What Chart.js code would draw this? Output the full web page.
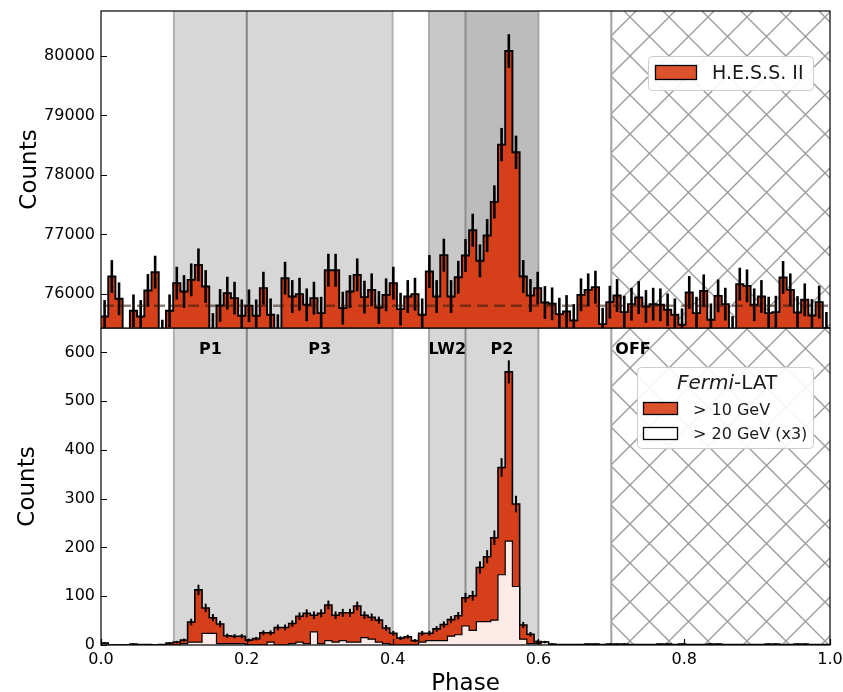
<!DOCTYPE html>
<html><head><meta charset="utf-8">
<script src="https://cdn.jsdelivr.net/npm/chart.js"></script>
<style>
html,body{margin:0;padding:0;background:#fff;}
#wrap{position:relative;width:843px;height:692px;overflow:hidden;}
#c1{position:absolute;left:0;top:0;}
#c2{position:absolute;left:0;top:328px;}
</style></head><body>
<div id="wrap">
<canvas id="c2" width="843" height="364"></canvas>
<canvas id="c1" width="843" height="329"></canvas>
</div>
<script>
// ---------------- DATA ----------------
const PHASE_BINS = 101;                       // equal phase bins over [0, 1]
const phaseTicks = [0, 0.2, 0.4, 0.6, 0.8, 1.0];
const hessTicks = [76000, 77000, 78000, 79000, 80000];
const fermiTicks = [0, 100, 200, 300, 400, 500, 600];
const hessBackgroundLevel = 75800;

const hessCounts = [
 75619, 76291, 75916, 75100, 75714, 75619, 76056, 76364, 75290, 75714,
 76179, 76039, 76235, 76487, 76123, 75400, 75804, 76011, 75927, 75630,
 75798, 75630, 76095, 75647, 75380, 76263, 75955, 75994, 75815, 75927,
 75675, 76397, 76397, 75759, 76039, 76319, 75944, 76067, 75770, 75983,
 76179, 75742, 75955, 75994, 75647, 76375, 75955, 76650, 75955, 76278,
 76644, 77070, 76555, 76980, 77546, 78510, 80084, 78381, 76291, 75972,
 76095, 75854, 75832, 75658, 75703, 75552, 75983, 76067, 76112, 75490,
 75860, 75972, 75692, 75826, 75938, 75787, 75826, 75815, 75731, 75647,
 75479, 76022, 75675, 76050, 75563, 75966, 75826, 75350, 76163, 76134,
 75815, 75955, 75675, 75692, 76275, 76067, 75686, 75899, 75636, 75860,
 75420
];

const fermiAbove10 = [
 4, 0, 0, 0, 2, 1, 1, 0, 1, 4, 6, 10,
 47, 113, 76, 56, 43, 19, 18, 18, 10, 13, 25, 25, 36, 36, 44, 59, 65, 61, 65, 82, 61, 66,
 66, 80, 61, 57, 51, 35, 24, 14, 17, 9, 24, 24, 33, 42, 52, 60, 97, 101, 159, 181, 220, 364, 560, 289, 41, 22, 7, 6,
 2, 1, 1, 1, 1, 2, 2, 1, 2, 2, 2, 1, 1, 1, 1, 2, 2, 1, 2, 1,
 1, 1, 2, 2, 1, 1, 1, 1, 1, 1, 2, 2, 1, 1, 2, 2, 1, 1, 1
];

const fermiAbove20x3 = [
 3, 0, 0, 0, 0, 0, 0, 0, 0, 0, 0, 3,
 6, 6, 24, 24, 3, 3, 3, 3, 0, 0, 0, 6, 0, 0, 3, 6, 3, 27, 3, 9, 6, 9,
 6, 6, 15, 12, 6, 3, 0, 0, 0, 0, 6, 9, 9, 9, 18, 21, 39, 30, 48, 48, 51, 144, 213, 120, 12, 3, 3, 6,
 0, 0, 0, 0, 0, 0, 0, 0, 0, 0, 0, 0, 0, 0, 0, 0, 0, 0, 0, 0,
 0, 0, 0, 0, 0, 0, 0, 0, 0, 0, 0, 0, 0, 0, 0, 0, 0, 0, 0
];

const phaseRegions = [
 {label: 'P1',  from: 0.10, to: 0.20},
 {label: 'P3',  from: 0.20, to: 0.40},
 {label: 'LW2', from: 0.45, to: 0.50},
 {label: 'P2',  from: 0.50, to: 0.60}
];
const offRegion = {label: 'OFF', from: 0.70, to: 1.00};
const regionEdges = [0.10, 0.20, 0.40, 0.45, 0.50, 0.60, 0.70];

// ---------------- STYLE ----------------
const FONT = 'DejaVu Sans';
const RED = '#d5401a';
const RED_LEGEND = '#dc522d';
const PINK = '#fcebe6';
const topBandFills = ['#d7d7d7', '#d7d7d7', '#c8c8c8', '#bcbcbc'];
const botBandFills = ['#d7d7d7', '#d7d7d7', '#d7d7d7', '#d7d7d7'];
const edgeColors = ['#b2b2b2', '#868686', '#b2b2b2', '#a8a8a8', '#8e8e8e', '#a2a2a2', '#a2a2a2'];

function stepPoints(vals) {
  const n = vals.length;
  const pts = vals.map((v, i) => ({x: i / n, y: v}));
  pts.push({x: 1, y: vals[n - 1]});
  return pts;
}

function noPad(s) { s.paddingTop = 0; s.paddingBottom = 0; s.paddingLeft = 0; s.paddingRight = 0; }

function backgroundPlugin(fills, pageOffsetY) {
  return {
    id: 'bg',
    beforeDatasetsDraw(chart) {
      const {ctx, chartArea: a, scales: {x}} = chart;
      ctx.save();
      ctx.beginPath(); ctx.rect(a.left, a.top, a.right - a.left, a.bottom - a.top); ctx.clip();
      phaseRegions.forEach((r, i) => {
        const x0 = x.getPixelForValue(r.from), x1 = x.getPixelForValue(r.to);
        ctx.fillStyle = fills[i];
        ctx.fillRect(x0, a.top, x1 - x0, a.bottom - a.top);
      });
      const hx0 = x.getPixelForValue(offRegion.from), hx1 = x.getPixelForValue(offRegion.to);
      ctx.save();
      ctx.beginPath(); ctx.rect(hx0, a.top, hx1 - hx0, a.bottom - a.top); ctx.clip();
      ctx.strokeStyle = '#9c9c9c'; ctx.lineWidth = 1.4;
      const Yt = a.top + pageOffsetY, Yb = a.bottom + pageOffsetY, sp = 39;
      ctx.beginPath();
      for (let c = 613 - sp * 40; c < 613 + sp * 40; c += sp) {
        if (c + Yb < hx0 - 5 || c + Yt > hx1 + 5) continue;
        ctx.moveTo(c + Yt, a.top); ctx.lineTo(c + Yb, a.bottom);
      }
      for (let d = 647 - sp * 40; d < 647 + sp * 40; d += sp) {
        if (d - Yt < hx0 - 5 || d - Yb > hx1 + 5) continue;
        ctx.moveTo(d - Yt, a.top); ctx.lineTo(d - Yb, a.bottom);
      }
      ctx.stroke();
      ctx.restore();
      regionEdges.forEach((p, i) => {
        const px = x.getPixelForValue(p);
        ctx.strokeStyle = edgeColors[i]; ctx.lineWidth = 2;
        ctx.beginPath(); ctx.moveTo(px, a.top); ctx.lineTo(px, a.bottom); ctx.stroke();
      });
      ctx.restore();
    }
  };
}

function errorBarPlugin(vals, width) {
  return {
    id: 'errbars',
    afterDatasetsDraw(chart) {
      const {ctx, chartArea: a, scales: {x, y}} = chart;
      ctx.save();
      ctx.beginPath(); ctx.rect(a.left, a.top, a.right - a.left, a.bottom - a.top); ctx.clip();
      ctx.strokeStyle = '#000'; ctx.lineWidth = width;
      vals.forEach((v, i) => {
        if (v <= 0) return;
        const e = Math.sqrt(v);
        const px = x.getPixelForValue((i + 0.5) / vals.length);
        ctx.beginPath();
        ctx.moveTo(px, y.getPixelForValue(v - e));
        ctx.lineTo(px, y.getPixelForValue(v + e));
        ctx.stroke();
      });
      ctx.restore();
    }
  };
}

function framePlugin(yTicks, xTicks) {
  return {
    id: 'frame',
    afterDraw(chart) {
      const {ctx, chartArea: a, scales: {x, y}} = chart;
      ctx.save();
      ctx.strokeStyle = '#000'; ctx.lineWidth = 1.2;
      ctx.strokeRect(a.left, a.top, a.right - a.left, a.bottom - a.top);
      ctx.beginPath();
      yTicks.forEach(v => { const py = Math.round(y.getPixelForValue(v)) + 0.5; ctx.moveTo(a.left, py); ctx.lineTo(a.left + 6, py); });
      if (xTicks) xTicks.forEach(v => { const px = Math.round(x.getPixelForValue(v)) + 0.5; ctx.moveTo(px, a.bottom); ctx.lineTo(px, a.bottom - 6); });
      ctx.stroke();
      ctx.restore();
    }
  };
}

function yTitle(text, baselineX) {
  return {
    id: 'ytitle',
    afterDraw(chart) {
      const {ctx, chartArea: a} = chart;
      ctx.save();
      ctx.translate(baselineX, (a.top + a.bottom) / 2);
      ctx.rotate(-Math.PI / 2);
      ctx.font = '23px "' + FONT + '"'; ctx.fillStyle = '#000';
      ctx.textAlign = 'center'; ctx.textBaseline = 'alphabetic';
      ctx.fillText(text, 0, 0);
      ctx.restore();
    }
  };
}

function roundRect(ctx, x, y, w, h, r) {
  ctx.beginPath();
  ctx.moveTo(x + r, y); ctx.lineTo(x + w - r, y); ctx.arcTo(x + w, y, x + w, y + r, r);
  ctx.lineTo(x + w, y + h - r); ctx.arcTo(x + w, y + h, x + w - r, y + h, r);
  ctx.lineTo(x + r, y + h); ctx.arcTo(x, y + h, x, y + h - r, r);
  ctx.lineTo(x, y + r); ctx.arcTo(x, y, x + r, y, r); ctx.closePath();
}

const tickFont = {family: FONT, size: 16};

// ---------------- TOP: H.E.S.S. II ----------------
new Chart(document.getElementById('c1'), {
  type: 'line',
  data: {datasets: [{
    label: 'H.E.S.S. II',
    data: stepPoints(hessCounts),
    stepped: 'before', fill: 'start',
    backgroundColor: RED, borderColor: '#000', borderWidth: 1.9,
    pointRadius: 0, tension: 0
  }]},
  options: {
    responsive: false, animation: false, devicePixelRatio: 1,
    layout: {padding: {left: 0, right: 13, top: 11, bottom: 1}},
    plugins: {legend: {display: false}, tooltip: {enabled: false}},
    scales: {
      x: {type: 'linear', min: 0, max: 1, display: false},
      y: {
        type: 'linear', min: 75425, max: 80757,
        afterFit: s => { s.width = 101; noPad(s); },
        afterBuildTicks: s => { s.ticks = hessTicks.map(v => ({value: v})); },
        grid: {display: false, drawTicks: false},
        border: {display: false},
        ticks: {padding: 6, color: '#000', font: tickFont, callback: v => String(v)}
      }
    }
  },
  plugins: [
    backgroundPlugin(topBandFills, 0),
    errorBarPlugin(hessCounts, 2.6),
    {
      id: 'bkgline',
      afterDatasetsDraw(chart) {
        const {ctx, chartArea: a, scales: {y}} = chart;
        const py = y.getPixelForValue(hessBackgroundLevel);
        ctx.save();
        ctx.strokeStyle = 'rgba(45,25,15,0.55)'; ctx.lineWidth = 2.6;
        ctx.setLineDash([11, 6]); ctx.lineDashOffset = -2;
        ctx.beginPath(); ctx.moveTo(a.left, py); ctx.lineTo(a.right, py); ctx.stroke();
        ctx.restore();
      }
    },
    framePlugin(hessTicks, null),
    yTitle('Counts', 36),
    {
      id: 'legendTop',
      afterDraw(chart) {
        const ctx = chart.ctx;
        ctx.save();
        roundRect(ctx, 648.5, 56.5, 165, 34, 4);
        ctx.fillStyle = 'rgba(255,255,255,0.9)'; ctx.fill();
        ctx.strokeStyle = '#cccccc'; ctx.lineWidth = 1; ctx.stroke();
        ctx.fillStyle = RED_LEGEND; ctx.fillRect(655.5, 65.5, 41, 14);
        ctx.strokeStyle = '#000'; ctx.lineWidth = 1.3; ctx.strokeRect(655.5, 65.5, 41, 14);
        ctx.fillStyle = '#1a1a1a'; ctx.font = '19px "' + FONT + '"';
        ctx.textAlign = 'left'; ctx.textBaseline = 'alphabetic';
        ctx.fillText(chart.data.datasets[0].label, 712, 79);
        ctx.restore();
      }
    }
  ]
});

// ---------------- BOTTOM: Fermi-LAT ----------------
new Chart(document.getElementById('c2'), {
  type: 'line',
  data: {datasets: [
    {
      label: '> 10 GeV',
      data: stepPoints(fermiAbove10),
      stepped: 'before', fill: 'start',
      backgroundColor: RED, borderColor: '#000', borderWidth: 1.6,
      pointRadius: 0, tension: 0, order: 2
    },
    {
      label: '> 20 GeV (x3)',
      data: stepPoints(fermiAbove20x3),
      stepped: 'before', fill: 'start',
      backgroundColor: PINK, borderColor: '#000', borderWidth: 1.2,
      pointRadius: 0, tension: 0, order: 1
    }
  ]},
  options: {
    responsive: false, animation: false, devicePixelRatio: 1,
    layout: {padding: {left: 0, right: 13, top: 0, bottom: 0}},
    plugins: {legend: {display: false}, tooltip: {enabled: false}},
    scales: {
      x: {
        type: 'linear', min: 0, max: 1,
        afterFit: s => { s.height = 47; noPad(s); },
        afterBuildTicks: s => { s.ticks = phaseTicks.map(v => ({value: v})); },
        grid: {display: false, drawTicks: false},
        border: {display: false},
        ticks: {padding: 5, color: '#000', font: tickFont, maxRotation: 0, autoSkip: false, callback: v => Number(v).toFixed(1)}
      },
      y: {
        type: 'linear', min: 0, max: 650,
        afterFit: s => { s.width = 101; noPad(s); },
        afterBuildTicks: s => { s.ticks = fermiTicks.map(v => ({value: v})); },
        grid: {display: false, drawTicks: false},
        border: {display: false},
        ticks: {padding: 6, color: '#000', font: tickFont, callback: v => String(v)}
      }
    }
  },
  plugins: [
    backgroundPlugin(botBandFills, 328),
    errorBarPlugin(fermiAbove10, 2),
    framePlugin(fermiTicks, phaseTicks),
    yTitle('Counts', 34),
    {
      id: 'labelsBottom',
      afterDraw(chart) {
        const {ctx, chartArea: a, scales: {x}} = chart;
        ctx.save();
        ctx.fillStyle = '#000';
        ctx.font = 'bold 16px "' + FONT + '"';
        ctx.textBaseline = 'alphabetic';
        ctx.textAlign = 'center';
        phaseRegions.forEach(r => ctx.fillText(r.label, x.getPixelForValue((r.from + r.to) / 2), 26));
        ctx.textAlign = 'left';
        ctx.fillText(offRegion.label, x.getPixelForValue(offRegion.from) + 4, 26);
        ctx.font = '23px "' + FONT + '"'; ctx.textAlign = 'center';
        ctx.fillText('Phase', (a.left + a.right) / 2, 362);
        roundRect(ctx, 637.5, 39.5, 176, 81, 4);
        ctx.fillStyle = 'rgba(255,255,255,0.9)'; ctx.fill();
        ctx.strokeStyle = '#cccccc'; ctx.lineWidth = 1; ctx.stroke();
        ctx.fillStyle = '#1a1a1a';
        ctx.font = 'italic 20px "' + FONT + '"';
        const w1 = ctx.measureText('Fermi').width;
        ctx.font = '20px "' + FONT + '"';
        const w2 = ctx.measureText('-LAT').width;
        const sx = 727 - (w1 + w2) / 2;
        ctx.textAlign = 'left';
        ctx.font = 'italic 20px "' + FONT + '"'; ctx.fillText('Fermi', sx, 61);
        ctx.font = '20px "' + FONT + '"'; ctx.fillText('-LAT', sx + w1, 61);
        const ds = chart.data.datasets;
        ctx.lineWidth = 1.3; ctx.strokeStyle = '#000';
        ctx.fillStyle = RED_LEGEND; ctx.fillRect(643.5, 74.5, 34, 12); ctx.strokeRect(643.5, 74.5, 34, 12);
        ctx.fillStyle = '#fff'; ctx.fillRect(643.5, 99.5, 34, 12); ctx.strokeRect(643.5, 99.5, 34, 12);
        ctx.fillStyle = '#1a1a1a'; ctx.font = '16px "' + FONT + '"';
        ctx.fillText(ds[0].label, 693, 87);
        ctx.fillText(ds[1].label, 693, 111);
        ctx.restore();
      }
    }
  ]
});
</script>
</body></html>
